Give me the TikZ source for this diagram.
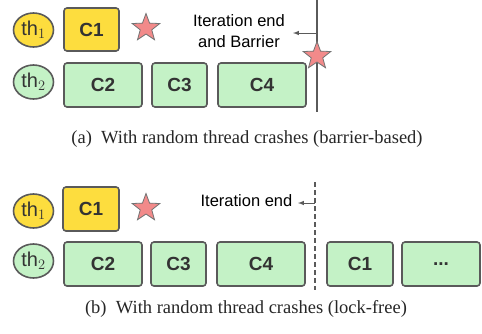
\documentclass[tikz,border=0pt]{standalone}
\usepackage{fontspec}
\setmainfont{Liberation Serif}
\setsansfont{Liberation Sans}
\usetikzlibrary{shapes.geometric, arrows}

\definecolor{thyellow}{HTML}{FDDD3E}
\definecolor{thgreen}{HTML}{C4F2C6}
\definecolor{crashred}{HTML}{F28A8A}
\definecolor{edgegray}{HTML}{5A5A5A}

\tikzset{
  thread/.style={draw=edgegray,line width=1.6pt,shape=ellipse,inner sep=0pt,minimum width=40pt,minimum height=34pt,text=black!80,font=\sffamily\fontsize{20}{22}\selectfont},
  chunk/.style={draw=edgegray,line width=1.6pt,rounded corners=3pt,shape=rectangle,minimum height=44pt,text=black!80,font=\sffamily\bfseries\fontsize{19}{22}\selectfont},
  crash/.style={draw=black!55,line width=0.8pt,fill=crashred,shape=star,star points=5,star point ratio=2.4,inner sep=0pt,minimum size=29pt},
  barlabel/.style={align=center,font=\sffamily\fontsize{16.5}{21}\selectfont},
  caption/.style={text=black!85,font=\fontsize{18.5}{21}\selectfont}
}

\begin{document}
\begin{tikzpicture}[x=1pt,y=-1pt]
            \useasboundingbox (0,0) rectangle (482,333);

            % (a) barrier-based
            \node[thread,fill=thyellow](a1)at(33.5,30){th$_1$};
            \node[thread,fill=thgreen](a2)at(33.5,82){th$_2$};
            \node[chunk,fill=thyellow,minimum width=55pt,minimum height=43pt](ac1)at(91.5,29.5){C1};
            \node[crash](as1)at(146,28){};
            \node[chunk,fill=thgreen,minimum width=78pt](ac2)at(103,85){C2};
            \node[chunk,fill=thgreen,minimum width=55pt](ac3)at(179.5,85){C3};
            \node[chunk,fill=thgreen,minimum width=88pt](ac4)at(262,85){C4};
            \node[barlabel](at1)at(239,31.5){Iteration end\\and Barrier};

            \coordinate(ab1)at(317,0);
            \coordinate(ab2)at(317,112);
            \coordinate(aa1)at(317,33);
            \coordinate(aa2)at(293,33);
            \draw[edgegray,line width=1.2pt](ab1)--(ab2);
            \draw[->,>=latex,edgegray,line width=1pt](aa1)--(aa2);
            \node[crash](as2)at(317,56){};

            \node[caption](ca)at(247,139){(a)\ \ With random thread crashes (barrier-based)};

            % (b) lock-free
            \node[thread,fill=thyellow](b1)at(33.5,211){th$_1$};
            \node[thread,fill=thgreen](b2)at(33.5,261){th$_2$};
            \node[chunk,fill=thyellow,minimum width=56pt](bc1)at(91,209){C1};
            \node[crash](bs1)at(146,208){};
            \node[barlabel](bt1)at(246.5,201){Iteration end};
            \node[chunk,fill=thgreen,minimum width=78pt](bc2)at(103,264){C2};
            \node[chunk,fill=thgreen,minimum width=55pt](bc3)at(178.5,264){C3};
            \node[chunk,fill=thgreen,minimum width=88pt](bc4)at(261,264){C4};
            \node[chunk,fill=thgreen,minimum width=66pt](bc5)at(360,264){C1};
            \node[chunk,fill=thgreen,minimum width=78pt](bc6)at(441,264){...};

            \coordinate(bb1)at(315,182);
            \coordinate(bb2)at(315,290);
            \coordinate(ba1)at(315,203);
            \coordinate(ba2)at(298,203);
            \draw[edgegray,line width=1.2pt,dash pattern=on 5pt off 3pt](bb1)--(bb2);
            \draw[->,>=latex,edgegray,line width=1pt](ba1)--(ba2);

            \node[caption](cb)at(246,309){(b)\ \ With random thread crashes (lock-free)};
\end{tikzpicture}
\end{document}
